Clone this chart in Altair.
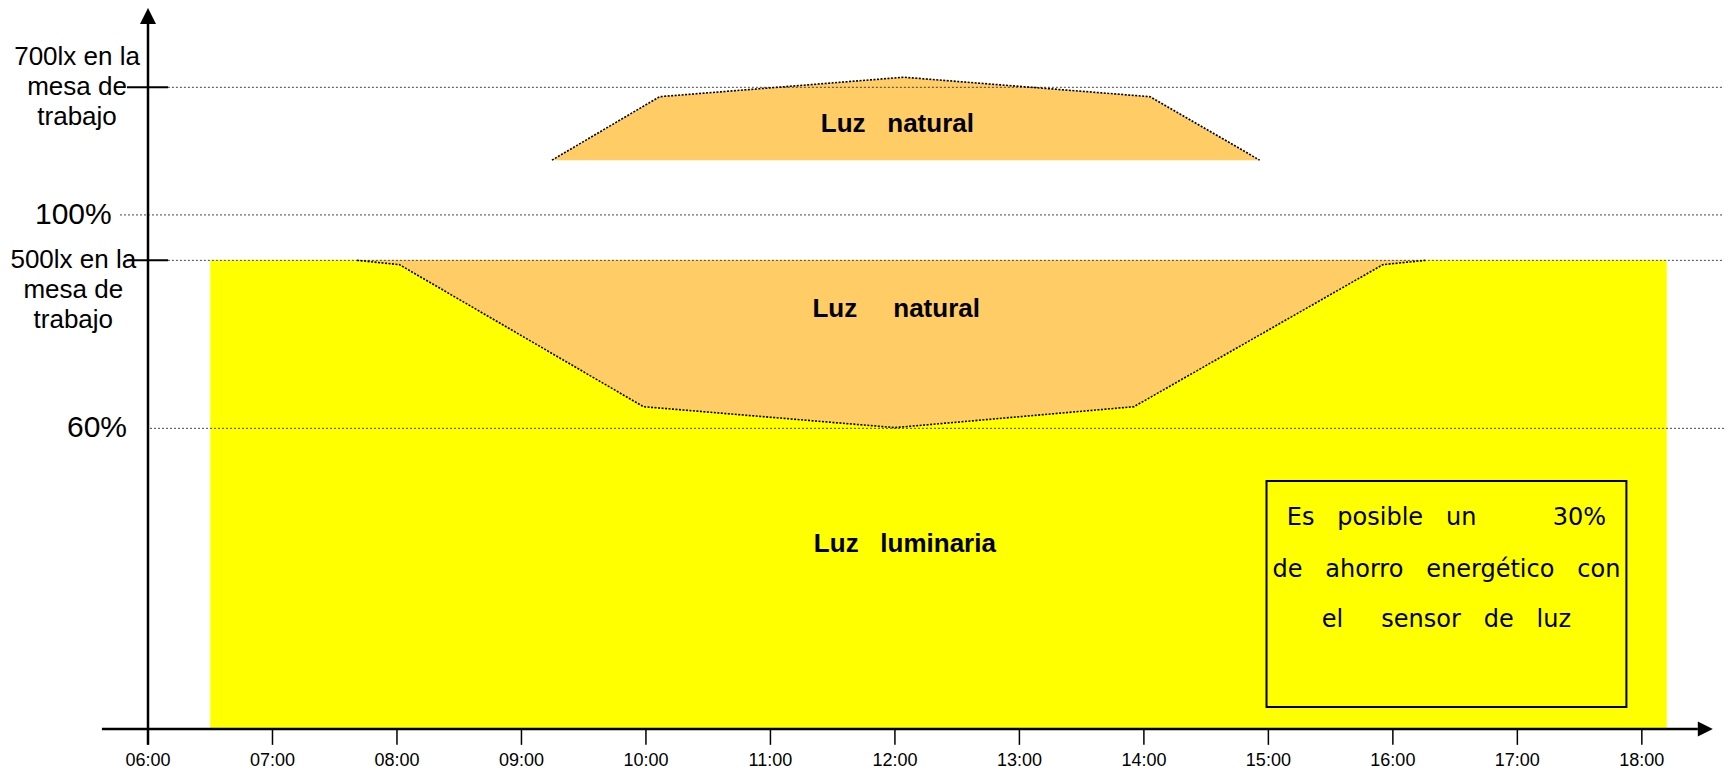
import altair as alt
import pandas as pd

NB = "\u00a0"

# ---- axes / scale description (x: hour of day, y: relative level, 0 = time axis, 100 = arrow tip)
X_MIN, X_MAX = 6.0, 18.66
hour_ticks = [6, 7, 8, 9, 10, 11, 12, 13, 14, 15, 16, 17, 18]
hour_labels = ["06:00", "07:00", "08:00", "09:00", "10:00", "11:00", "12:00",
               "13:00", "14:00", "15:00", "16:00", "17:00", "18:00"]

# reference levels (dotted lines)
level_names = ["700lx", "100%", "500lx", "60%"]
level_values = [89.0, 71.3, 65.0, 41.7]
level_start = [6.16, 5.775, 6.16, 6.016]

# y-axis labels (multi-line labels anchored at the baseline of their first line)
ylab_multi_text = ["700lx en la\nmesa de\ntrabajo", "500lx en la\nmesa de\ntrabajo"]
ylab_multi_hour = [5.43, 5.40]
ylab_multi_level = [92.1, 63.9]
ylab_pct_text = ["100%", "60%"]
ylab_pct_hour = [5.40, 5.59]
ylab_pct_level = [71.3, 41.7]

# luminaire light (yellow block)
lum_start, lum_end = 6.5, 18.2
lum_level = 65.0

# natural light under the 500 lx line: lower edge of the band
low_hours = [7.68, 8.02, 9.98, 12.0, 13.92, 15.92, 16.26]
low_levels = [65.0, 64.4, 44.7, 41.8, 44.7, 64.4, 65.0]

# natural light near the 700 lx line: upper edge of the band
top_hours = [9.245, 10.11, 12.07, 14.05, 14.93]
top_levels = [78.9, 87.7, 90.4, 87.7, 78.9]
top_base = 78.9

# area labels
area_text = ["Luz" + NB * 3 + "natural", "Luz" + NB * 5 + "natural", "Luz" + NB * 3 + "luminaria"]
area_hour = [12.02, 12.01, 12.08]
area_level = [83.9, 58.25, 25.7]

# note box
box_hours = [14.985, 17.876]
box_levels = [3.05, 34.4]
box_lines = ["Es" + NB * 3 + "posible" + NB * 3 + "un" + NB * 10 + "30%",
             "de" + NB * 3 + "ahorro" + NB * 3 + "energético" + NB * 3 + "con",
             "el" + NB * 5 + "sensor" + NB * 3 + "de" + NB * 3 + "luz"]
box_line_levels = [29.3, 22.05, 15.1]
box_center = 16.43

NARROW = "Liberation Sans Narrow, Arial Narrow, Liberation Sans, Arial"
REG = "Liberation Sans, Arial"

xs = alt.Scale(domain=[X_MIN, X_MAX], nice=False, zero=False)
ys = alt.Scale(domain=[0, 100], nice=False, zero=False)


def X(f):
    return alt.X(f, type="quantitative", scale=xs, axis=None)


def Y(f):
    return alt.Y(f, type="quantitative", scale=ys, axis=None)


yellow = alt.Chart(pd.DataFrame({"x0": [lum_start], "x1": [lum_end], "y0": [0.0], "y1": [lum_level]})
                   ).mark_rect(color="#FFFF00").encode(x=X("x0"), x2="x1", y=Y("y0"), y2="y1")

low_df = pd.DataFrame({"hour": low_hours, "top": [lum_level] * len(low_hours), "bottom": low_levels})
low_area = alt.Chart(low_df).mark_area(color="#FFCC66", orient="vertical").encode(
    x=X("hour"), y=Y("top"), y2="bottom")
low_line = alt.Chart(low_df).mark_line(color="black", strokeDash=[2, 1.5], strokeWidth=1.6).encode(
    x=X("hour"), y=Y("bottom"))

top_df = pd.DataFrame({"hour": top_hours, "level": top_levels, "base": [top_base] * len(top_hours)})
top_area = alt.Chart(top_df).mark_area(color="#FFCC66", orient="vertical").encode(
    x=X("hour"), y=Y("level"), y2="base")
top_line = alt.Chart(top_df).mark_line(color="black", strokeDash=[2, 1.5], strokeWidth=1.6).encode(
    x=X("hour"), y=Y("level"))

grid_df = pd.DataFrame({"name": level_names, "level": level_values, "start": level_start,
                        "end": [X_MAX] * len(level_values)})
grid = alt.Chart(grid_df).mark_rule(color="#444444", strokeDash=[2, 2], strokeWidth=1).encode(
    x=X("start"), x2="end", y=Y("level"))

ytick_df = pd.DataFrame({"level": [level_values[0], level_values[2]], "x0": [5.831, 5.831], "x1": [6.161, 6.161]})
yticks = alt.Chart(ytick_df).mark_rule(color="black", strokeWidth=2).encode(
    x=X("x0"), x2="x1", y=Y("level"))

yaxis = alt.Chart(pd.DataFrame({"x": [X_MIN], "y0": [-2.2], "y1": [98.0]})).mark_rule(
    color="black", strokeWidth=2.5).encode(x=X("x"), y=Y("y0"), y2="y1")
xaxis = alt.Chart(pd.DataFrame({"x0": [5.63], "x1": [18.45], "y": [0.0]})).mark_rule(
    color="black", strokeWidth=2.5).encode(x=X("x0"), x2="x1", y=Y("y"))

arrow_up = alt.Chart(pd.DataFrame({"x": [X_MIN], "y": [98.9]})).mark_point(
    shape="M0,-1L-1,1L1,1Z", filled=True, color="black", opacity=1, size=256).encode(x=X("x"), y=Y("y"))
arrow_right = alt.Chart(pd.DataFrame({"x": [18.51], "y": [0.0]})).mark_point(
    shape="M1,0L-1,-1L-1,1Z", filled=True, color="black", opacity=1, size=225).encode(x=X("x"), y=Y("y"))

xt_df = pd.DataFrame({"hour": hour_ticks, "label": hour_labels,
                      "ya": [0.0] * len(hour_ticks), "yb": [-2.2] * len(hour_ticks),
                      "ly": [-4.5] * len(hour_ticks)})
xticks = alt.Chart(xt_df).mark_rule(color="black", strokeWidth=1.5).encode(x=X("hour"), y=Y("ya"), y2="yb")
xlabels = alt.Chart(xt_df).mark_text(font=NARROW, fontSize=18, color="black", align="center",
                                     baseline="middle").encode(x=X("hour"), y=Y("ly"), text="label")

ymulti_df = pd.DataFrame({"text": ylab_multi_text, "hour": ylab_multi_hour, "level": ylab_multi_level})
ylabels_multi = alt.Chart(ymulti_df).mark_text(font=REG, fontSize=26, color="black", align="center",
                                               baseline="alphabetic", lineBreak="\n", lineHeight=30).encode(
    x=X("hour"), y=Y("level"), text="text")
ypct_df = pd.DataFrame({"text": ylab_pct_text, "hour": ylab_pct_hour, "level": ylab_pct_level})
ylabels_pct = alt.Chart(ypct_df).mark_text(font=REG, fontSize=30, color="black", align="center",
                                           baseline="middle").encode(x=X("hour"), y=Y("level"), text="text")

area_df = pd.DataFrame({"text": area_text, "hour": area_hour, "level": area_level})
area_labels = alt.Chart(area_df).mark_text(font=REG, fontWeight="bold", fontSize=26, color="black",
                                           align="center", baseline="middle").encode(
    x=X("hour"), y=Y("level"), text="text")

box = alt.Chart(pd.DataFrame({"x0": [box_hours[0]], "x1": [box_hours[1]],
                              "y0": [box_levels[0]], "y1": [box_levels[1]]})).mark_rect(
    fillOpacity=0, stroke="black", strokeWidth=2).encode(x=X("x0"), x2="x1", y=Y("y0"), y2="y1")
box_df = pd.DataFrame({"text": box_lines, "level": box_line_levels, "hour": [box_center] * 3})
box_text = alt.Chart(box_df).mark_text(font="DejaVu Sans", fontSize=24, color="black", align="center",
                                       baseline="middle").encode(x=X("hour"), y=Y("level"), text="text")

chart = alt.layer(
    yellow, low_area, top_area, grid, low_line, top_line, yticks, xticks, xaxis, yaxis,
    arrow_up, arrow_right, xlabels, ylabels_multi, ylabels_pct, area_labels, box, box_text
).properties(
    width=1576, height=721,
    autosize=alt.AutoSizeParams(type="none"),
    padding={"left": 140, "top": 0, "right": 0, "bottom": 44},
    background="white",
).configure_view(stroke=None)

chart.save("out.html", embed_options={"renderer": "svg", "actions": False})
